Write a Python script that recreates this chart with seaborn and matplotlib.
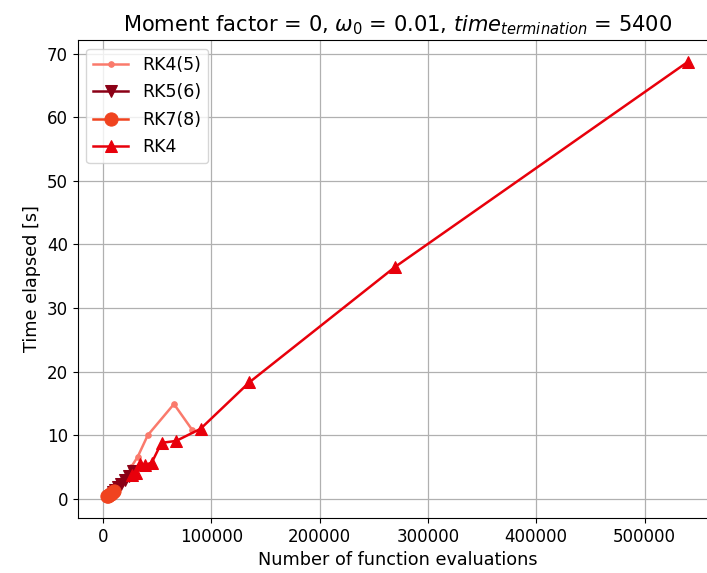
import matplotlib
matplotlib.use("Agg")
import matplotlib.pyplot as plt
import seaborn as sns
import pandas as pd

# Function evaluations vs. wall-clock time for each integrator
rk45_evals = [4000, 6000, 8000, 10500, 13500, 17000, 21000, 26000, 32000, 41300, 65500, 82500]
rk45_time = [0.5, 0.7, 1.0, 1.3, 1.7, 2.3, 3.1, 5.0, 6.6, 10.0, 14.9, 10.8]

rk56_evals = [9000, 11500, 14000, 17000, 20000, 24000, 28000]
rk56_time = [1.1, 1.4, 1.8, 2.4, 2.9, 3.6, 4.3]

rk78_evals = [3500, 4500, 5500, 6500, 7500, 9000, 10500]
rk78_time = [0.4, 0.5, 0.6, 0.7, 0.8, 1.0, 1.2]

rk4_evals = [27000, 30000, 33750, 38571, 45000, 54000, 67500, 90000, 135000, 270000, 540000]
rk4_time = [3.7, 4.0, 5.5, 5.3, 5.7, 8.8, 9.1, 11.0, 18.3, 36.5, 68.7]

series = [
    ("RK4(5)", rk45_evals, rk45_time, "#fa7a6c", ".", 8),
    ("RK5(6)", rk56_evals, rk56_time, "#8b0016", "v", 8),
    ("RK7(8)", rk78_evals, rk78_time, "#f0431f", "o", 9.5),
    ("RK4", rk4_evals, rk4_time, "#e8000b", "^", 8),
]

fig, ax = plt.subplots(figsize=(7.07, 5.73), dpi=100)

for name, xs, ys, color, marker, ms in series:
    df = pd.DataFrame({"evals": xs, "time": ys})
    sns.lineplot(data=df, x="evals", y="time", ax=ax, color=color,
                 marker=marker, markersize=ms, markeredgecolor=color,
                 linewidth=1.8, sort=False, estimator=None, label=name)

ax.set_xlabel("Number of function evaluations", fontsize=12.7)
ax.set_ylabel("Time elapsed [s]", fontsize=12.7)
ax.set_title(r"Moment factor = 0, $\omega_0$ = 0.01, $time_{termination}$ = 5400",
             fontsize=15.1)
ax.tick_params(labelsize=12)
ax.grid(True, color="#b0b0b0", linewidth=0.9)
ax.set_axisbelow(True)
ax.legend(loc="upper left", fontsize=12.5, labelspacing=0.55)

# the plot area runs slightly past the right edge of the canvas
fig.subplots_adjust(left=0.110, right=1.014, top=0.930, bottom=0.096)
fig.savefig("out.png", dpi=100)
